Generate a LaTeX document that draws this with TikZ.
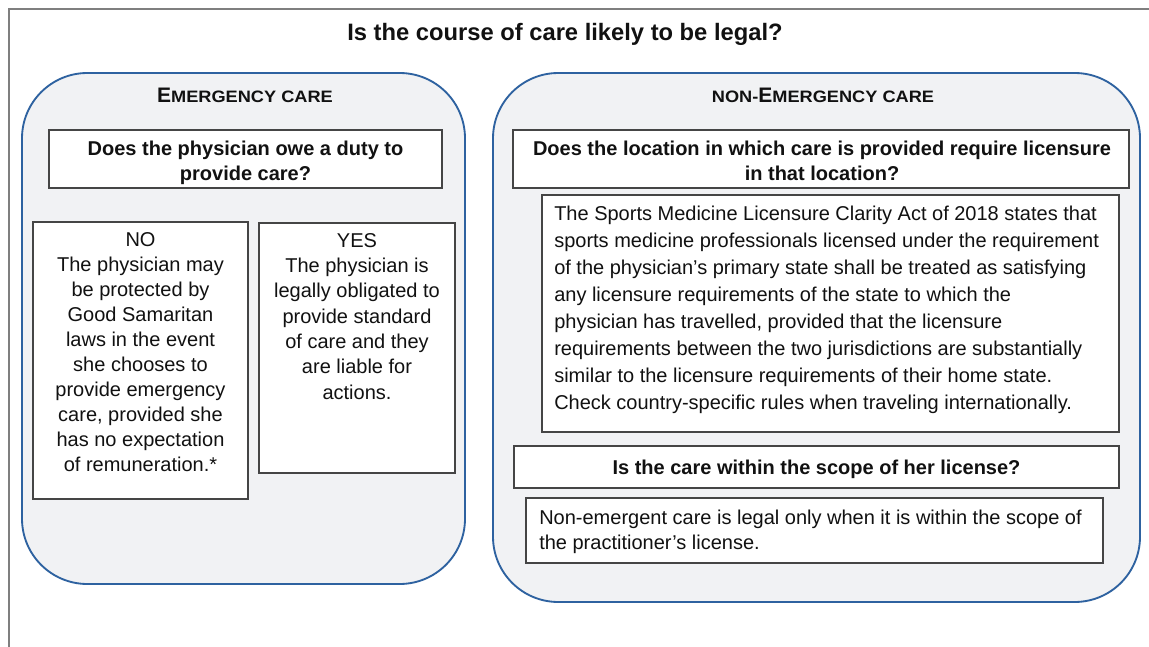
\documentclass[tikz,border=0pt]{standalone}
\usepackage{fontspec}
\setmainfont{Liberation Sans}
\newfontfamily\widesans[FakeStretch=1.1]{Liberation Sans}
\definecolor{boxblue}{HTML}{2E62A0}
\definecolor{boxfill}{HTML}{F1F2F4}
\definecolor{framegray}{HTML}{7F7F7F}
\definecolor{inkgray}{HTML}{454545}
\definecolor{ink}{HTML}{111111}
\newcommand{\bodyfont}{\fontsize{15pt}{18.75pt}\selectfont}
\newcommand{\bigE}{{\fontsize{15.75pt}{18pt}\selectfont\bfseries E}}
\newcommand{\smcp}[1]{{\widesans\bfseries\fontsize{12.4pt}{14pt}\selectfont #1}}
\begin{document}
\begin{tikzpicture}[x=0.75pt,y=-0.75pt,
  panel/.style={draw=boxblue, fill=boxfill, line width=1.4pt, rounded corners=49pt},
  card/.style={draw=inkgray, fill=white, line width=1.1pt},
  frame/.style={draw=framegray, line width=1.5pt},
  txt/.style={inner sep=0pt, text=ink, font=\bodyfont},
  ctxt/.style={txt, anchor=base},
  ltxt/.style={txt, anchor=base west},
  ttl/.style={inner sep=0pt, text=ink, anchor=base, font=\fontsize{17.8pt}{20pt}\selectfont\bfseries},
  hdr/.style={inner sep=0pt, text=ink, anchor=base}
]
\useasboundingbox (0,0) rectangle (1149,646);
\clip (0,0) rectangle (1149,646);
\fill[white] (0,0) rectangle (1149,646);
\draw[frame] (9,9) rectangle (1175,675);

% title
\node[ttl] (title) at (565,40) {Is the course of care likely to be legal?};

% panels
\draw[panel] (22,73) rectangle (465,584);
\draw[panel] (493,73) rectangle (1140,602);

% headers
\node[hdr] (hdrL) at (245,102) {\bigE\smcp{MERGENCY CARE}};
\node[hdr] (hdrR) at (823,102) {\smcp{NON-}\bigE\smcp{MERGENCY CARE}};

% emergency side
\draw[card] (49,130) rectangle (442,188);
\node[ctxt] (duty) at (245.5,155) {\parbox[t]{390\dimexpr0.75pt}{\centering\bfseries Does the physician owe a duty to\\provide care?}};

\draw[card] (33,222) rectangle (248,499);
\node[ctxt] (no) at (140.5,246) {\parbox[t]{210\dimexpr0.75pt}{\centering NO\\The physician may\\be protected by\\Good Samaritan\\laws in the event\\she chooses to\\provide emergency\\care, provided she\\has no expectation\\of remuneration.*}};

\draw[card] (259,223) rectangle (455,473);
\node[ctxt] (yes) at (357,247) {\parbox[t]{192\dimexpr0.75pt}{\centering\fontsize{15pt}{19pt}\selectfont YES\\The physician is\\legally obligated to\\provide standard\\of care and they\\are liable for\\actions.}};

% non-emergency side
\draw[card] (513,130) rectangle (1129,188);
\node[ctxt] (loc) at (822,155) {\parbox[t]{612\dimexpr0.75pt}{\centering\bfseries Does the location in which care is provided require licensure\\in that location?}};

\draw[card] (542,195) rectangle (1119,432);
\node[ltxt] (act) at (554,220) {\parbox[t]{560\dimexpr0.75pt}{\raggedright\fontsize{15pt}{20.25pt}\selectfont The Sports Medicine Licensure Clarity Act of 2018 states that\\sports medicine professionals licensed under the requirement\\of the physician’s primary state shall be treated as satisfying\\any licensure requirements of the state to which the\\physician has travelled, provided that the licensure\\requirements between the two jurisdictions are substantially\\similar to the licensure requirements of their home state.\\Check country-specific rules when traveling internationally.}};

\draw[card] (514,446) rectangle (1119,488);
\node[ctxt] (scope) at (816.5,474) {\bfseries Is the care within the scope of her license?};

\draw[card] (526,498) rectangle (1103,563);
\node[ltxt] (nonem) at (539,524) {\parbox[t]{560\dimexpr0.75pt}{\raggedright Non-emergent care is legal only when it is within the scope of\\the practitioner’s license.}};
\end{tikzpicture}
\end{document}
